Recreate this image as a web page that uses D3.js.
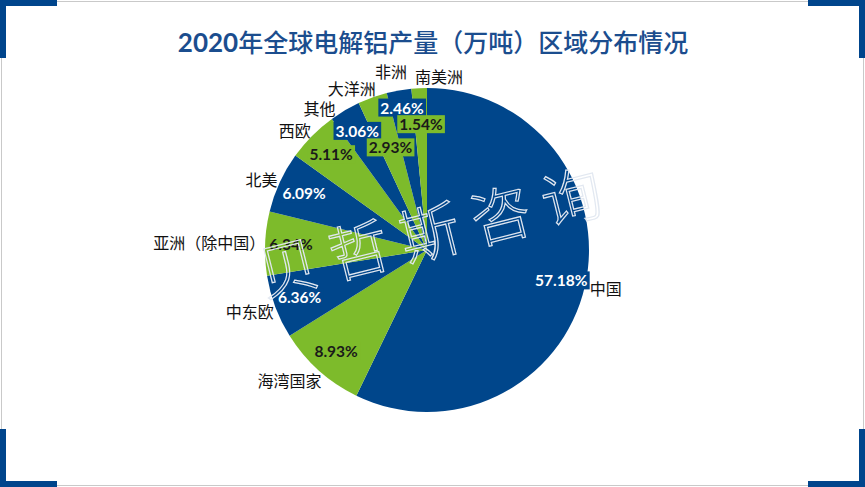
<!DOCTYPE html>
<html>
<head>
<meta charset="utf-8">
<script src="https://cdn.jsdelivr.net/npm/d3@7"></script>
<style>
  html, body { margin: 0; padding: 0; background: #fff; }
  svg { display: block; }
</style>
</head>
<body>
<div id="chart"></div>
<script>
// data (share of 2020 world primary aluminium output, %)
const regions = ['中国', '海湾国家', '中东欧', '亚洲（除中国）', '北美', '西欧', '其他', '大洋洲', '非洲', '南美洲'];
const shares = [57.18, 8.93, 6.36, 6.34, 6.09, 5.11, 3.06, 2.93, 2.46, 1.54];
const titleText = ['2020', '年全球电解铝产量（万吨）区域分布情况'];
const watermark = ['贝', '哲', '斯', '咨', '询'];

// layout
const width = 865, height = 487;
const cx = 427, cy = 250, radius = 162;
const blue = '#00468b', green = '#7dbb2b';
// inner label distance (fraction of radius), staggered like the original
const innerK = [0.85, 0.84, 0.84, 0.84, 0.835, 0.835, 0.85, 0.67, 0.89, 0.775];
// small nudges for the outside labels
const outerNudge = [[0, 2], [6, 7], [3, 4], [5, 0], [2, 0], [2, -1], [-7, 3], [5, -3], [9, -13], [-4, -6]];
const outerAnchor = [null, null, null, null, null, null, null, null, null, 'start'];

let svg = d3.select('#chart')
    .append('svg')
    .attr('width', width)
    .attr('height', height);

// frame: thin grey border plus blue corner brackets
svg.append('rect')
    .attr('x', 1.5).attr('y', 1.5)
    .attr('width', width - 3).attr('height', height - 3)
    .attr('fill', 'none')
    .attr('stroke', '#c9c9c9')
    .attr('stroke-width', 1);

let corners = [[0, 0, 1, 1], [width, 0, -1, 1], [0, height, 1, -1], [width, height, -1, -1]];
corners.forEach(([x, y, sx, sy]) => {
    let g = svg.append('g').attr('transform', `translate(${x},${y}) scale(${sx},${sy})`);
    g.append('rect').attr('x', 0).attr('y', 0).attr('width', 57).attr('height', 6).attr('fill', '#00458c');
    g.append('rect').attr('x', 0).attr('y', 0).attr('width', 6).attr('height', 58).attr('fill', '#00458c');
});

// title
let title = svg.append('text')
    .attr('x', 433)
    .attr('y', 52)
    .attr('text-anchor', 'middle')
    .attr('fill', '#1b4d8e');
title.append('tspan')
    .style('font-family', 'Lato, "Noto Sans", sans-serif')
    .style('font-weight', 'bold')
    .style('font-size', '26px')
    .text(titleText[0]);
title.append('tspan')
    .style('font-family', '"Noto Sans CJK SC", sans-serif')
    .style('font-weight', 500)
    .style('font-size', '25px')
    .text(titleText[1]);

// pie
let pie = d3.pie().sort(null).value(d => d)(shares);
let arc = d3.arc().innerRadius(0).outerRadius(radius);
let color = (i) => i % 2 === 0 ? blue : green;

let g = svg.append('g').attr('transform', `translate(${cx},${cy})`);

g.selectAll('path.slice')
    .data(pie)
    .enter()
    .append('path')
    .attr('class', 'slice')
    .attr('d', arc)
    .attr('fill', (d, i) => color(i));

// percentage labels inside the slices, boxed in slice colour
let inner = g.selectAll('g.inner')
    .data(pie)
    .enter()
    .append('g')
    .attr('class', 'inner')
    .attr('transform', (d, i) => {
        let r = radius * innerK[i];
        let c = d3.arc().innerRadius(r).outerRadius(r).centroid(d);
        return `translate(${c[0]},${c[1]})`;
    });

inner.append('text')
    .attr('text-anchor', 'middle')
    .attr('dy', '0.36em')
    .style('font-family', 'Lato, "Noto Sans", sans-serif')
    .style('font-weight', 'bold')
    .style('font-size', '15.5px')
    .attr('fill', (d, i) => i % 2 === 0 ? '#ffffff' : '#1a1a1a')
    .text(d => d.data.toFixed(2) + '%');

inner.each(function(d, i) {
    let t = d3.select(this).select('text');
    let bb = t.node().getBBox();
    d3.select(this).insert('rect', 'text')
        .attr('x', bb.x - 2).attr('y', bb.y)
        .attr('width', bb.width + 4).attr('height', bb.height)
        .attr('fill', color(i));
});

// region names outside the pie
let outerArc = d3.arc().innerRadius(radius * 1.03).outerRadius(radius * 1.03);
g.selectAll('text.outer')
    .data(pie)
    .enter()
    .append('text')
    .attr('class', 'outer')
    .attr('x', (d, i) => outerArc.centroid(d)[0] + outerNudge[i][0])
    .attr('y', (d, i) => outerArc.centroid(d)[1] + outerNudge[i][1])
    .attr('dy', '0.35em')
    .attr('text-anchor', (d, i) => outerAnchor[i] || ((d.startAngle + d.endAngle) / 2 < Math.PI ? 'start' : 'end'))
    .style('font-family', '"Noto Sans CJK SC", sans-serif')
    .style('font-size', '16px')
    .attr('fill', '#111')
    .text(d => regions[d.index]);

// watermark
let wm = svg.append('g')
    .attr('transform', `translate(430,234) rotate(-14)`);
wm.selectAll('text')
    .data(watermark)
    .enter()
    .append('text')
    .attr('x', (d, i) => (i - 2) * 73)
    .attr('y', 0)
    .attr('dy', '0.35em')
    .attr('text-anchor', 'middle')
    .style('font-family', '"Noto Sans CJK SC", sans-serif')
    .style('font-weight', 300)
    .style('font-size', '60px')
    .attr('fill', 'none')
    .attr('stroke', '#e2e8f1')
    .attr('stroke-width', 1.2)
    .text(d => d);
</script>
</body>
</html>
